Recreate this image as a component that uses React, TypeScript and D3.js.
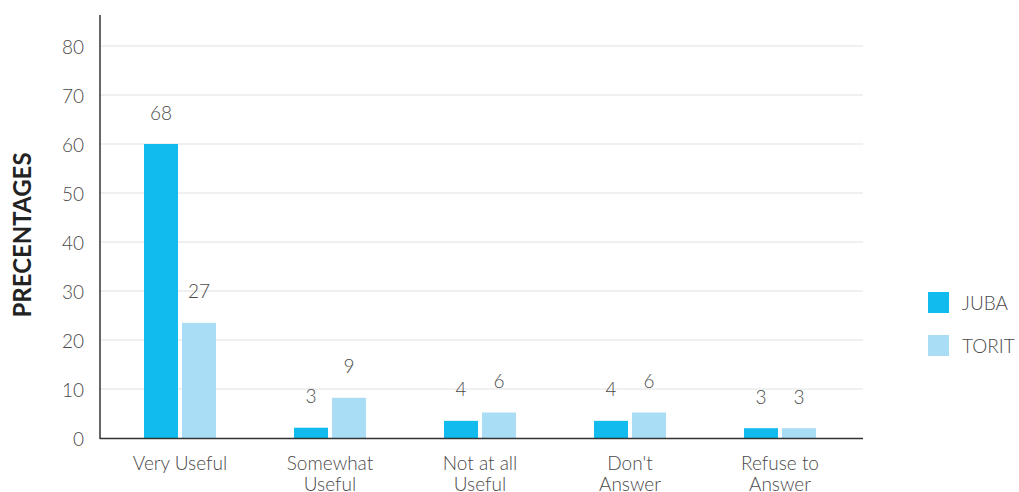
import React from "react";
import * as d3 from "d3";

const categories: string[][] = [
  ["Very Useful"],
  ["Somewhat", "Useful"],
  ["Not at all", "Useful"],
  ["Don't", "Answer"],
  ["Refuse to", "Answer"],
];
const seriesNames = ["JUBA", "TORIT"];
const jubaValues = [60, 2.1, 3.5, 3.5, 2.0];
const toritValues = [23.5, 8.2, 5.2, 5.2, 2.0];
const jubaLabels = ["68", "3", "4", "4", "3"];
const toritLabels = ["27", "9", "6", "6", "3"];
const yTicks = [0, 10, 20, 30, 40, 50, 60, 70, 80];
const colors = ["#12BBEE", "#A8DDF5"];

const W = 1019;
const H = 492;
const FONT = "Lato, 'Open Sans', sans-serif";
const FS = 19;

export default function App() {
  const y = d3.scaleLinear().domain([0, 80]).range([438, 46]);
  const x0 = d3
    .scaleBand<number>()
    .domain(d3.range(categories.length))
    .range([105, 855])
    .paddingInner(0.5)
    .paddingOuter(0.25);
  const series = [
    { vals: jubaValues, labels: jubaLabels },
    { vals: toritValues, labels: toritLabels },
  ];
  const bw = 34;
  return (
    <svg
      width={W}
      height={H}
      style={{ position: "absolute", left: 0, top: 0, background: "#fff" }}
      fontFamily={FONT}
    >
      {yTicks.map((t) => (
        <g key={t}>
          {t > 0 && (
            <line x1={100} x2={863} y1={y(t)} y2={y(t)} stroke="#ebebeb" strokeWidth={1.5} />
          )}
          <text
            x={84}
            y={y(t)}
            textAnchor="end"
            dominantBaseline="central"
            fontSize={FS}
            fontWeight={300}
            fill="#4a4a4a"
          >
            {t}
          </text>
        </g>
      ))}
      {categories.map((c, i) => {
        const cx = (x0(i) as number) + x0.bandwidth() / 2;
        return (
          <g key={i}>
            {series.map((s, j) => {
              const bx = j === 0 ? cx - 2 - bw : cx + 2;
              return (
                <g key={j}>
                  <rect
                    x={bx}
                    y={y(s.vals[i])}
                    width={bw}
                    height={y(0) - y(s.vals[i])}
                    fill={colors[j]}
                  />
                  <text
                    x={bx + bw / 2}
                    y={y(s.vals[i]) - 32}
                    textAnchor="middle"
                    dominantBaseline="central"
                    fontSize={FS}
                    fontWeight={300}
                    fill="#4a4a4a"
                  >
                    {s.labels[i]}
                  </text>
                </g>
              );
            })}
            {c.map((line, k) => (
              <text
                key={k}
                x={cx}
                y={470 + k * 21}
                textAnchor="middle"
                fontSize={FS}
                fontWeight={300}
                fill="#4a4a4a"
              >
                {line}
              </text>
            ))}
          </g>
        );
      })}
      <line x1={100} x2={100} y1={15} y2={439} stroke="#333" strokeWidth={1.5} />
      <line x1={100} x2={863} y1={438.5} y2={438.5} stroke="#333" strokeWidth={1.5} />
      <text
        transform="translate(21,235) rotate(-90)"
        textAnchor="middle"
        dominantBaseline="central"
        fontSize={24}
        fontWeight={700}
        fill="#222"
      >
        PRECENTAGES
      </text>
      {seriesNames.map((n, j) => (
        <g key={n}>
          <rect x={928} y={292 + j * 43} width={21} height={21} fill={colors[j]} />
          <text
            x={962}
            y={302.5 + j * 43}
            dominantBaseline="central"
            fontSize={FS}
            fontWeight={300}
            fill="#4a4a4a"
          >
            {n}
          </text>
        </g>
      ))}
    </svg>
  );
}
